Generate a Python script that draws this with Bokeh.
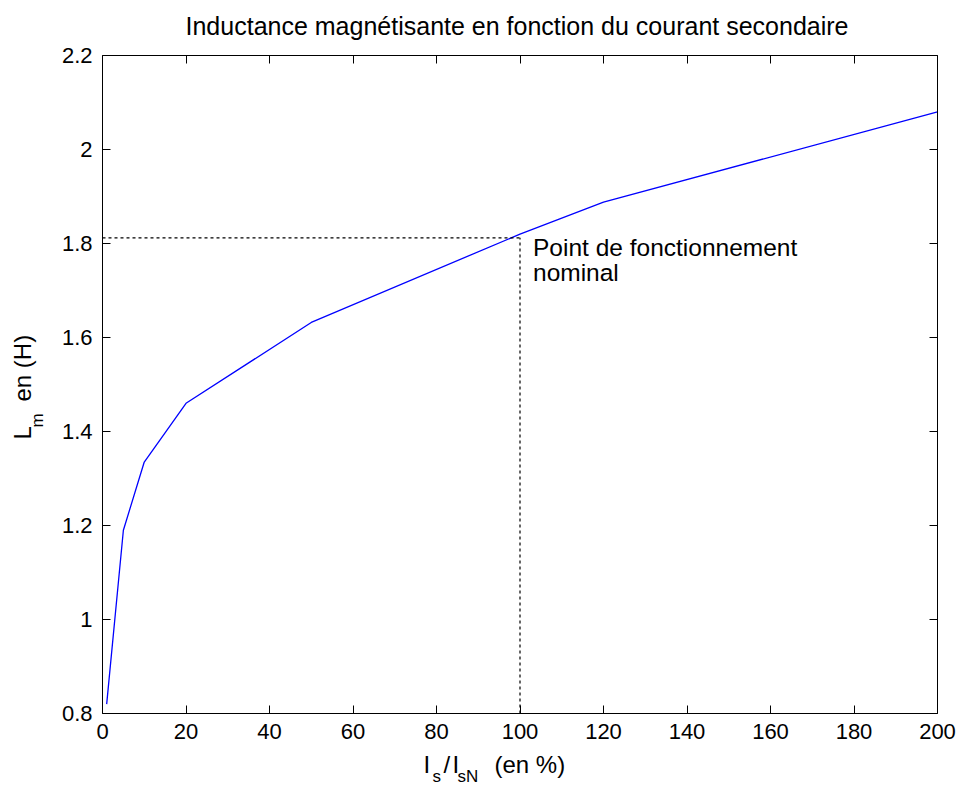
import numpy as np
from bokeh.plotting import figure
from bokeh.models import LinearAxis, FixedTicker, Label, Range1d
from bokeh.embed import file_html
from bokeh.resources import INLINE

# ---- data ----
is_pct = [1, 5, 10, 20, 50, 100, 120, 200]
lm_h = [0.82, 1.19, 1.335, 1.46, 1.632, 1.82, 1.888, 2.08]
nominal_x = 100
nominal_y = 1.812
x_lim = (0, 200)
y_lim = (0.8, 2.2)
x_ticks = [0, 20, 40, 60, 80, 100, 120, 140, 160, 180, 200]
y_ticks = [0.8, 1.0, 1.2, 1.4, 1.6, 1.8, 2.0, 2.2]
y_tick_labels = ["0.8", "1", "1.2", "1.4", "1.6", "1.8", "2", "2.2"]
title_text = "Inductance magnétisante en fonction du courant secondaire"
annot_lines = ["Point de fonctionnement", "nominal"]

# ---- layout (pixels) ----
W, H = 960, 788
FL, FT, FR, FB = 102, 55, 937, 713  # axes box edges in picture pixels
FONT = "Liberation Sans"
BASE_CORR = 0.32  # empirical shift (in em) between requested and drawn alphabetic baseline

# ranges extended so that the axes box lands on FL..FR / FT..FB while the frame fills the canvas
sx = (FR - FL) / (x_lim[1] - x_lim[0])
sy = (FB - FT) / (y_lim[1] - y_lim[0])
x_range = Range1d(x_lim[0] - FL / sx, x_lim[1] + (W - FR) / sx)
y_range = Range1d(y_lim[0] - (H - FB) / sy, y_lim[1] + FT / sy)

p = figure(width=W, height=H, output_backend="svg", toolbar_location=None,
           x_range=x_range, y_range=y_range,
           min_border_left=0, min_border_right=0, min_border_top=0, min_border_bottom=0,
           background_fill_color="white", border_fill_color="white",
           x_axis_location=None, y_axis_location=None)
p.grid.visible = False
p.outline_line_color = None

def make_axis(place, loc, ticks, bounds, labels=None, show=True, standoff=10):
    ax = LinearAxis(fixed_location=loc, bounds=bounds)
    ax.ticker = FixedTicker(ticks=ticks)
    ax.major_tick_in = 8
    ax.major_tick_out = 0
    ax.minor_tick_line_color = None
    ax.axis_line_color = "black"
    ax.axis_line_width = 1
    ax.major_tick_line_color = "black"
    ax.major_label_text_font = FONT
    ax.major_label_text_font_size = "22px"
    ax.major_label_text_color = "black"
    ax.major_label_standoff = standoff
    if not show:
        ax.major_label_overrides = {t: "" for t in ticks}
    elif labels is not None:
        ax.major_label_overrides = {t: l for t, l in zip(ticks, labels)}
    p.add_layout(ax, place)
    return ax

make_axis("below", y_lim[0], x_ticks, x_lim, standoff=10)
make_axis("left", x_lim[0], y_ticks, y_lim, labels=y_tick_labels, standoff=10)
make_axis("above", y_lim[1], x_ticks, x_lim, show=False)
make_axis("right", x_lim[1], y_ticks, y_lim, show=False)

# curve
p.line(is_pct, lm_h, line_color="#0000ff", line_width=1.3)
# dotted guides
p.line([x_lim[0], nominal_x], [nominal_y, nominal_y], line_color="black", line_width=1.2, line_dash="3 3")
p.line([nominal_x, nominal_x], [y_lim[0], nominal_y], line_color="black", line_width=1.2, line_dash="3 3")

# annotation near nominal point
ANN_SIZE = 24.5
for i, t in enumerate(annot_lines):
    p.add_layout(Label(x=nominal_x, y=nominal_y, text=t, x_offset=13,
                       y_offset=-17 - 25 * i + BASE_CORR * ANN_SIZE,
                       text_font=FONT, text_font_size=f"{ANN_SIZE}px", text_color="black",
                       text_baseline="alphabetic", text_align="left"))

def slabel(x_img, y_img, text, size, angle=0.0, align="left"):
    # positions in picture pixels (top-left origin) of the text baseline; frame fills the canvas
    corr = BASE_CORR * size
    if angle == 0.0:
        x, y = x_img, H - y_img + corr
    else:
        x, y = x_img - corr, H - y_img
    p.add_layout(Label(x=x, y=y, x_units="screen", y_units="screen",
                       text=text, angle=angle, text_font=FONT, text_font_size=f"{size}px",
                       text_color="black", text_align=align, text_baseline="alphabetic"))

# title
slabel(516.5, 33, title_text, 25, align="center")

# x axis label: I_s/I_sN (en %)
slabel(423, 772, "I", 24)
slabel(432, 781, "s", 17)
slabel(443, 772, "/", 24)
slabel(452, 772, "I", 24)
slabel(457, 781, "sN", 17)
slabel(494, 772, "(en %)", 24)

# y axis label: L_m en (H)  (rotated)
slabel(30, 439, "L", 24, angle=np.pi / 2)
slabel(42, 427, "m", 17, angle=np.pi / 2)
slabel(30, 401, "en (H)", 24, angle=np.pi / 2)

open("out.html", "w").write(file_html(p, INLINE))
